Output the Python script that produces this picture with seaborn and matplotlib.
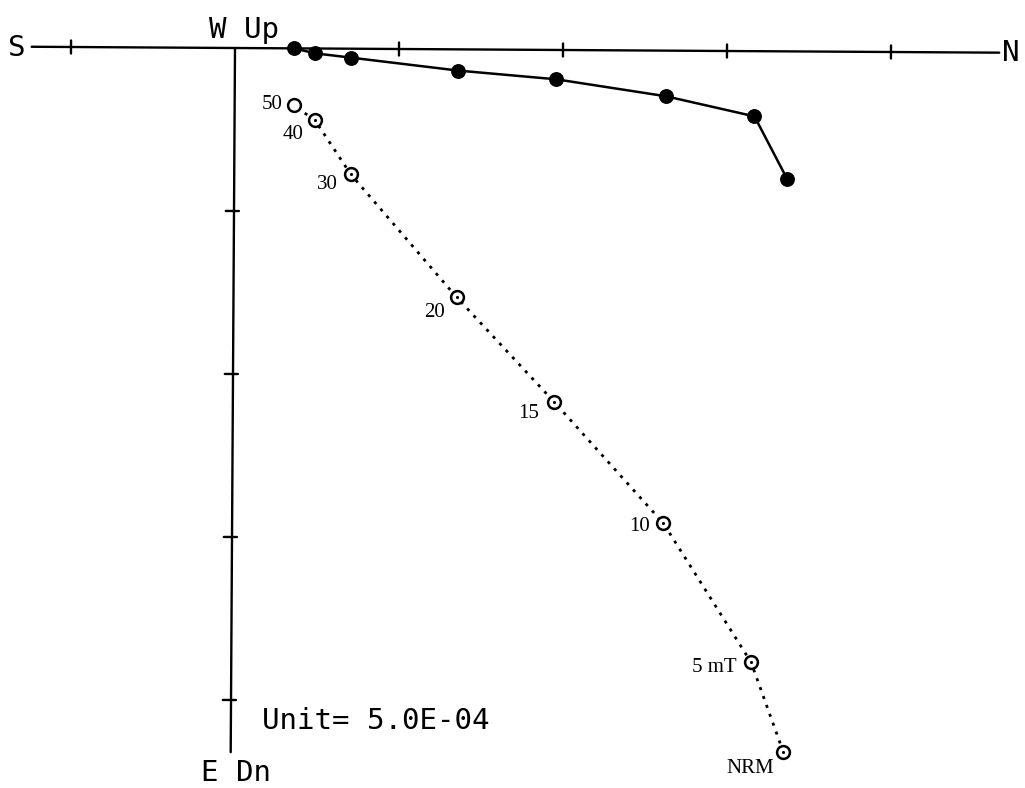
import numpy as np
import pandas as pd
import matplotlib
matplotlib.use("Agg")
import matplotlib.pyplot as plt
import seaborn as sns
from matplotlib.transforms import Affine2D

# demagnetisation steps, NRM first (values in plot units, 1 tick = 1 unit)
steps = ["NRM", "5 mT", "10", "15", "20", "30", "40", "50"]
north = [3.37, 3.17, 2.63, 1.96, 1.36, 0.71, 0.49, 0.36]
east = [0.78, 0.40, 0.28, 0.18, 0.13, 0.055, 0.03, 0.0]
down = [4.30, 3.75, 2.90, 2.16, 1.52, 0.77, 0.44, 0.35]
h_ticks = [-1, 1, 2, 3, 4]
v_ticks = [1, 2, 3, 4]
unit_text = "Unit= 5.0E-04"

# label offsets (pixels) from each open circle
label_off = [(-9, -14), (-15, -3), (-14, -1), (-15, -9), (-12, -13), (-13, -8), (-11, -12), (-11, 3)]

sns.set_style("white")
fig = plt.figure(figsize=(10.25, 7.88), dpi=100)
ax = fig.add_axes([0, 0, 1, 1])
ax.set_xlim(-235 / 164, (1025 - 235) / 164)
ax.set_ylim((788 - 48) / 163, -48 / 163)
ax.set_autoscale_on(False)
ax.axis("off")

# the scanned original is turned slightly clockwise
ox, oy = ax.transData.transform((0, 0))
rot = ax.transData + Affine2D().rotate_deg_around(ox, oy, -0.35)

lw_ax = 1.7
ax.plot([-1.24, 4.66], [0, 0], color="k", lw=lw_ax, transform=rot)
ax.plot([0, 0], [0, 4.32], color="k", lw=lw_ax, transform=rot)
for t in h_ticks:
    ax.plot([t, t], [-0.04, 0.04], color="k", lw=lw_ax, transform=rot)
for t in v_ticks:
    ax.plot([-0.05, 0.03], [t, t], color="k", lw=lw_ax, transform=rot)

df = pd.DataFrame({"step": steps, "north": north, "east": east, "down": down})

# horizontal projection (solid, filled)
sns.lineplot(data=df, x="north", y="east", sort=False, estimator=None,
             color="k", lw=1.8, ax=ax, transform=rot, zorder=2)
sns.scatterplot(data=df, x="north", y="east", s=115, color="k",
                edgecolor="k", linewidth=0, ax=ax, transform=rot,
                zorder=3, legend=False)

# vertical projection (dotted, open)
sns.lineplot(data=df, x="north", y="down", sort=False, estimator=None,
             color="k", lw=2.0, linestyle=(0, (1.1, 2.3)), ax=ax,
             transform=rot, zorder=2)
sns.scatterplot(data=df, x="north", y="down", s=85, facecolor="white",
                edgecolor="k", linewidth=1.8, ax=ax, transform=rot,
                zorder=3, legend=False)
sns.scatterplot(data=df.iloc[:-1], x="north", y="down", s=5, color="k",
                linewidth=0, ax=ax, transform=rot, zorder=4, legend=False)

serif = ["Liberation Serif", "DejaVu Serif"]
for i, lab in enumerate(steps):
    px, py = rot.transform((north[i], down[i]))
    dx, dy = label_off[i]
    ax.annotate(lab, xy=(px, py), xycoords="figure pixels",
                xytext=(dx, dy), textcoords="offset pixels",
                ha="right", va="center_baseline", fontsize=15,
                color="black", family=serif)

mono = dict(family="DejaVu Sans Mono", fontsize=21, color="k")
ax.text(-1.33, 0.0, "S", ha="center", va="center", **mono)
ax.text(4.73, 0.03, "N", ha="center", va="center", **mono)
ax.text(0.055, -0.06, "W Up", ha="center", va="baseline", **mono)
ax.text(0.006, 4.50, "E Dn", ha="center", va="baseline", **mono)
ax.text(0.165, 4.18, unit_text, ha="left", va="baseline", **mono)

ax.set_xlim(-235 / 164, (1025 - 235) / 164)
ax.set_ylim((788 - 48) / 163, -48 / 163)
fig.savefig("out.png", dpi=100, facecolor="white")
